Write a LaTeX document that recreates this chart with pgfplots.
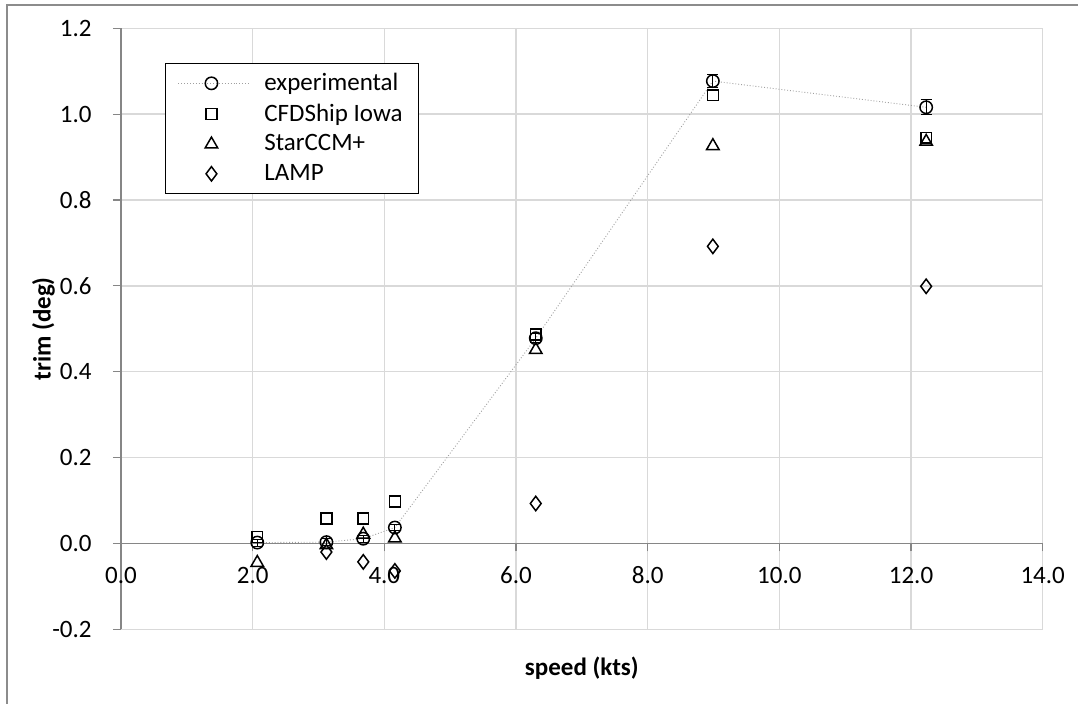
\documentclass[border=0pt]{standalone}
\usepackage{pgfplots}
\pgfplotsset{compat=1.18}
\usepackage{fontspec}
\setmainfont{Carlito}
\definecolor{gridc}{HTML}{D9D9D9}
\definecolor{axisc}{HTML}{868686}
\definecolor{framec}{HTML}{8C8C8C}
\pgfplotsset{
  mlegend/.style={legend image code/.code={\path[##1] plot coordinates {(0.58cm,0cm)}; \path (0cm,0cm) (1.43cm,0cm);}},
  llegend/.style={legend image code/.code={\draw[##1] (0cm,0cm) -- (1.235cm,0cm); \path[##1, solid] plot coordinates {(0.58cm,0cm)}; \path (1.43cm,0cm);}},
}
\begin{document}
\begin{tikzpicture}
\begin{axis}[
  at={(0,0)}, anchor=south west,
  scale only axis,
  width=460.85pt, height=300.5pt,
  xmin=0, xmax=14, ymin=-0.2, ymax=1.2,
  xtick={0,2,...,14}, ytick={-0.2,0,0.2,...,1.2},
  axis x line=middle, axis y line=left,
  axis line style={axisc, line width=0.6pt, -},
  hide obscured x ticks=false, hide obscured y ticks=false,
  grid=major,
  major grid style={gridc, line width=0.75pt},
  tick style={axisc, line width=0.6pt},
  tick align=outside,
  major tick length=4pt,
  /pgf/number format/assume math mode=true,
  xticklabel={\pgfmathprintnumber[fixed,fixed zerofill,precision=1]{\tick}},
  yticklabel={\pgfmathprintnumber[fixed,fixed zerofill,precision=1]{\tick}},
  tick label style={font=\fontsize{12.5}{14}\selectfont, black},
  xticklabel style={anchor=north, inner sep=0pt, yshift=-7.5pt},
  yticklabel style={anchor=east, inner sep=0pt, xshift=-10.5pt},
  xlabel={\textbf{speed (kts)}},
  ylabel={\textbf{trim (deg)}},
  label style={font=\fontsize{12.5}{14}\selectfont},
  xlabel style={at={(axis description cs:0.5,0)}, anchor=center, yshift=-19.5pt},
  ylabel style={at={(axis description cs:-0.084,0.5)}, anchor=center},
  legend style={at={(0.048,0.943)}, anchor=north west, draw=black, line width=0.6pt,
    font=\fontsize{12.5}{14}\selectfont, inner xsep=6pt, inner ysep=3pt, row sep=1.2pt,
    legend cell align=left},
  clip=false,
]
\addplot[llegend, gray!75, densely dotted, line width=0.45pt,
  mark=o, mark size=3.1pt, mark options={solid, black, line width=0.75pt},
  error bars/.cd, y dir=both, y explicit,
  error bar style={black, line width=0.5pt, solid},
  error mark options={rotate=90, mark size=2.8pt, black, line width=0.5pt}]
  coordinates {
  (2.07,0.002) +- (0,0.008)
  (3.12,0.003) +- (0,0.008)
  (3.68,0.011) +- (0,0.008)
  (4.16,0.037) +- (0,0.008)
  (6.30,0.478) +- (0,0.010)
  (8.99,1.077) +- (0,0.015)
  (12.23,1.016) +- (0,0.018)
  };
\addlegendentry{experimental}
\addplot[mlegend, only marks, mark=square, mark size=2.7pt, mark options={black, line width=0.75pt}]
  coordinates {
  (2.07,0.015) (3.12,0.058) (3.68,0.058) (4.16,0.098)
  (6.30,0.487) (8.99,1.044) (12.23,0.945)
  };
\addlegendentry{CFDShip Iowa}
\addplot[mlegend, only marks, mark=triangle, mark size=3.6pt, mark options={black, line width=0.75pt}]
  coordinates {
  (2.07,-0.045) (3.12,-0.004) (3.68,0.021) (4.16,0.012)
  (6.30,0.451) (8.99,0.926) (12.23,0.936)
  };
\addlegendentry{StarCCM+}
\addplot[mlegend, only marks, mark=diamond, mark size=3.6pt, mark options={black, line width=0.75pt}]
  coordinates {
  (3.12,-0.020) (3.68,-0.043) (4.16,-0.064)
  (6.30,0.093) (8.99,0.692) (12.23,0.599)
  };
\addlegendentry{LAMP}
\end{axis}
\draw[framec, line width=0.75pt] (-57pt,-40pt) -- (-57pt,312.15pt) -- (480pt,312.15pt);
\pgfresetboundingbox
\path[use as bounding box] (-60.5pt,-37.35pt) rectangle (478.5pt,314.65pt);
\end{tikzpicture}
\end{document}
